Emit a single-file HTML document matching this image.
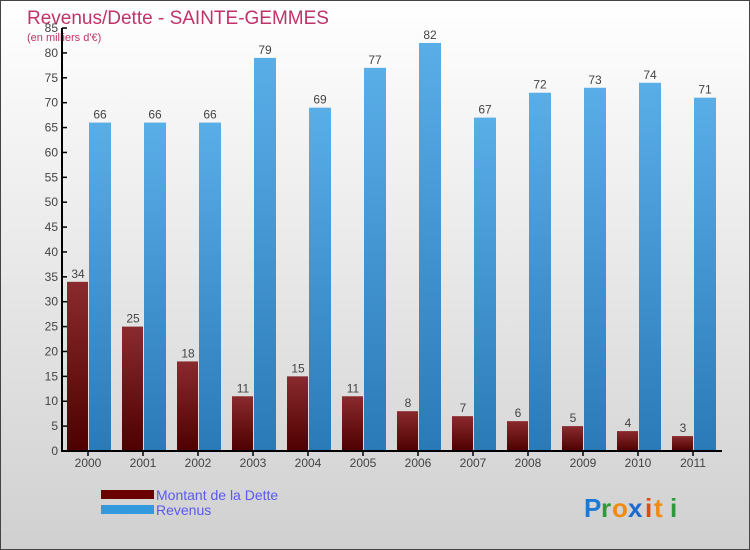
<!DOCTYPE html>
<html><head><meta charset="utf-8"><style>
body{margin:0;}
#c{width:750px;height:550px;position:relative;box-sizing:border-box;border:1px solid #444;background:linear-gradient(#ffffff,#d0d0d0);font-family:"Liberation Sans",sans-serif;overflow:hidden;}
text{font-family:"Liberation Sans",sans-serif;}
</style></head><body>
<div id="c">
<svg id="s" width="750" height="550">
<defs>
<linearGradient id="gd" x1="0" y1="0" x2="0" y2="1"><stop offset="0" stop-color="#8a2a2e"/><stop offset="1" stop-color="#4e0000"/></linearGradient>
<linearGradient id="gr" x1="0" y1="0" x2="0" y2="1"><stop offset="0" stop-color="#5aaee8"/><stop offset="1" stop-color="#2a7ab8"/></linearGradient>
</defs>
<text x="26" y="23" font-size="19" fill="#c0336a">Revenus/Dette - SAINTE-GEMMES</text>
<text x="26" y="40" font-size="11" fill="#c0336a">(en milliers d'€)</text>
<g id="plot"></g>
<rect x="100" y="489" width="53" height="9" fill="#6a0000"/>
<text x="155" y="499" font-size="14" fill="#5a5aee">Montant de la Dette</text>
<rect x="100" y="504" width="53" height="9" fill="#3399dd"/>
<text x="155" y="514" font-size="14" fill="#5a5aee">Revenus</text>
<g font-size="26" font-weight="bold">
<text x="583" y="516" fill="#1a7ad8">P</text><text x="600" y="516" fill="#2a9a3a">r</text><text x="611" y="516" fill="#f08a10">o</text><text x="627" y="516" fill="#1a6ad0">x</text><text x="644" y="516" fill="#e04a10">i</text><text x="653" y="516" fill="#f08a10">t</text><text x="669" y="516" fill="#2a9a3a">i</text>
</g>
</svg>
</div>
<script>
const years=["2000","2001","2002","2003","2004","2005","2006","2007","2008","2009","2010","2011"];
const dette=[34,25,18,11,15,11,8,7,6,5,4,3];
const revenus=[66,66,66,79,69,77,82,67,72,73,74,71];
const yTicks=[0,5,10,15,20,25,30,35,40,45,50,55,60,65,70,75,80,85];
const NS="http://www.w3.org/2000/svg";
const g=document.getElementById("plot");
const y=v=>450-v*4.976;
const xc=i=>87+i*55;
function el(t,a,p){const e=document.createElementNS(NS,t);for(const k in a)e.setAttribute(k,a[k]);(p||g).appendChild(e);return e;}
const ax=el("line",{x1:61,y1:y(85),x2:61,y2:450,stroke:"#000","stroke-width":2});


yTicks.forEach(v=>{
 const t=el("line",{x1:61,x2:66,y1:y(v),y2:y(v),stroke:"#000","stroke-width":1.5});
 
 
 const l=el("text",{x:57,y:y(v)+4,"text-anchor":"end","font-size":12,fill:"#444"});
 l.textContent=v;
 
 
});
years.forEach((yr,i)=>{
 const c=xc(i);
 const b1=el("rect",{x:c-21,y:y(dette[i]),width:21,height:450-y(dette[i]),fill:"url(#gd)"});
 
 
 const b2=el("rect",{x:c+1,y:y(revenus[i]),width:22,height:450-y(revenus[i]),fill:"url(#gr)"});
 
 
 const v1=el("text",{x:c-10,y:y(dette[i])-4,"text-anchor":"middle","font-size":12,fill:"#444"});
 v1.textContent=dette[i];
 
 
 const v2=el("text",{x:c+12,y:y(revenus[i])-4,"text-anchor":"middle","font-size":12,fill:"#444"});
 v2.textContent=revenus[i];
 
 
 const tk=el("line",{x1:c,x2:c,y1:450,y2:455,stroke:"#000","stroke-width":1.5});
 
 
 const xl=el("text",{x:c,y:466,"text-anchor":"middle","font-size":12,fill:"#444"});
 xl.textContent=yr;
 
 
});
const xa=el("line",{x1:60,y1:450,x2:721,y2:450,stroke:"#000","stroke-width":2});


</script>
</body></html>
